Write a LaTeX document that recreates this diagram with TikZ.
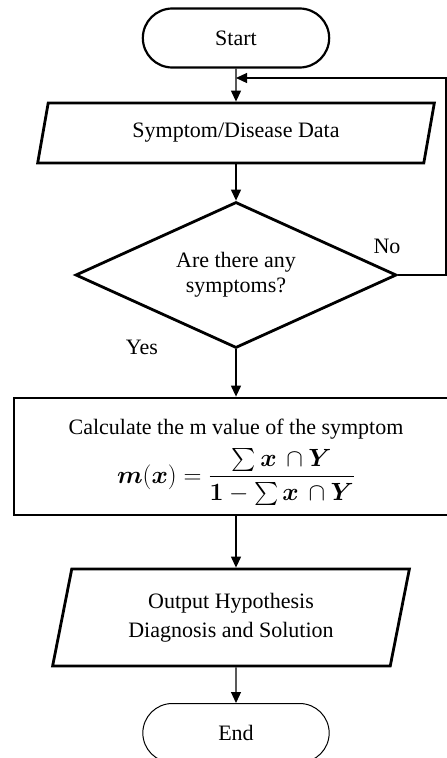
\documentclass[tikz,border=0pt]{standalone}
\usepackage{amsmath,amssymb}
\usepackage{fontspec}
\setmainfont{Liberation Serif}
\usetikzlibrary{shapes.geometric,shapes.misc,arrows.meta,positioning}

\begin{document}
\begin{tikzpicture}[x=1pt,y=-1pt,
  every node/.style={font=\fontsize{22}{25}\selectfont,align=center},
  term/.style={draw,rounded rectangle,minimum width=193pt,minimum height=59pt},
  iobox/.style={draw,line width=2.8pt,trapezium,trapezium stretches=true,
    trapezium left angle=77,trapezium right angle=103},
  line/.style={line width=1.2pt,-{Triangle[length=11pt,width=10pt]}}]

% page frame of the reference
\useasboundingbox (0,0) rectangle (447,758);

\node[term,line width=2.2pt] (start) at (236,38) {Start};
\node[iobox,minimum width=397pt,minimum height=60pt] (data) at (236,133)
  {Symptom/Disease Data};
\node[draw,diamond,line width=2.8pt,inner sep=0pt,aspect=2.2,
  minimum width=321pt,minimum height=146pt] (dec) at (236,275)
  {Are there any\\symptoms?};
\node[draw,rectangle,line width=2.8pt,minimum width=444pt,minimum height=117pt]
  (calc) at (236,456.5) {};
\node[inner sep=0pt] (calctxt) at (236,429) {Calculate the m value of the symptom};
\node[inner sep=0pt,font=\fontsize{23}{26}\selectfont,below=9pt of calctxt] (formula)
  {$\boldsymbol{m}(\boldsymbol{x})=\dfrac{\sum\boldsymbol{x}\,\cap\boldsymbol{Y}}
   {\boldsymbol{1}-\sum\boldsymbol{x}\,\cap\boldsymbol{Y}}$};
\node[iobox,minimum width=358pt,minimum height=97pt,
  font=\fontsize{22}{28.5}\selectfont] (out) at (231,617.5)
  {Output Hypothesis\\Diagnosis and Solution};
\node[term,line width=1pt] (stop) at (236,733) {End};

\node (no) at (387,246) {No};
\node (yes) at (142,347) {Yes};

% loop back when no symptoms
\coordinate (join) at (236,78);
\coordinate (edge) at (446,78);

\draw[line] (start) -- (start |- data.north);
\draw[line] (data.south -| dec.north) -- (dec);
\draw[line] (dec) -- (calc);
\draw[line] (calc.south) -- (calc.south |- out.north);
\draw[line] (out.south -| stop.north) -- (stop);
\draw[line] (dec.east) -| (edge) -- (join);
\end{tikzpicture}
\end{document}
